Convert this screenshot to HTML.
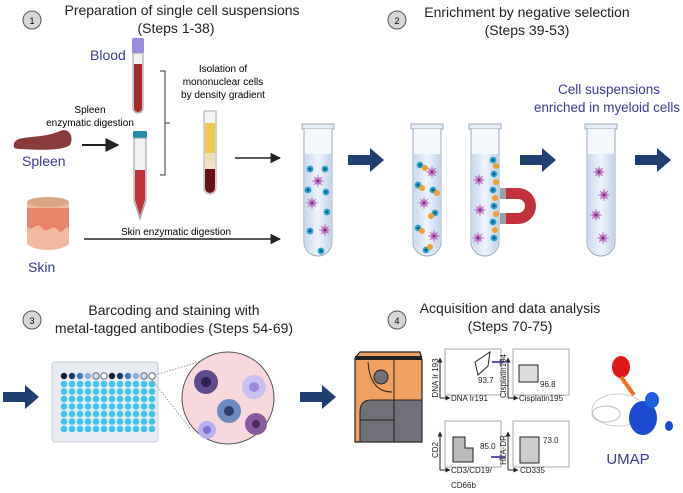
<!DOCTYPE html>
<html><head><meta charset="utf-8"><style>
html,body{margin:0;padding:0;background:#fff;}
svg{display:block;font-family:"Liberation Sans",sans-serif;}
</style></head><body>
<svg width="683" height="493" viewBox="0 0 683 493" xmlns="http://www.w3.org/2000/svg">
<defs>
<marker id="ah" viewBox="0 0 10 10" refX="9" refY="5" markerWidth="7" markerHeight="7" orient="auto"><path d="M0,0L10,5L0,10z" fill="#222"/></marker>
<marker id="ps" viewBox="0 0 10 10" refX="9" refY="5" markerWidth="6" markerHeight="6" markerUnits="userSpaceOnUse" orient="auto"><path d="M0,0L10,5L0,10z" fill="#5a5aa8"/></marker>
<marker id="ax" viewBox="0 0 10 10" refX="9" refY="5" markerWidth="5" markerHeight="5" markerUnits="userSpaceOnUse" orient="auto"><path d="M0,0L10,5L0,10z" fill="#222"/></marker>
<g id="bigArrow"><path d="M0,-5H22V-12L36,0L22,12V5H0z" fill="#1f3f72"/></g>
<linearGradient id="tg" x1="0" x2="1"><stop offset="0" stop-color="#c9d9ee"/><stop offset="0.5" stop-color="#eef4fb"/><stop offset="1" stop-color="#c3d4ea"/></linearGradient>
<g id="tube"><rect x="0" y="0" width="32" height="5" fill="#e8eef5" stroke="#9aa8b8"/><path d="M2,5V118a14,14 0 0 0 28,0V5" fill="#f4f7fb" stroke="#9aa8b8"/><path d="M3,30V118a13,13 0 0 0 26,0V30z" fill="url(#tg)"/></g>
<g id="bc"><circle r="3.4" fill="#2aa3d0"/><circle r="1.4" fill="#0b5a86"/></g>
<g id="mc"><circle r="3.8" fill="#c27cc6"/><path d="M-6,0H6M0,-6V6M-4,-4L4,4M-4,4L4,-4" stroke="#c27cc6" stroke-width="1"/><circle r="1.5" fill="#7a2d83"/></g>
<g id="oc"><circle r="3" fill="#f0a030"/></g>
</defs>

<circle cx="32" cy="20" r="9" fill="#d6d6d6" stroke="#555"/><text x="32" y="24" font-size="9" text-anchor="middle">1</text>
<text x="182" y="15" font-size="14" text-anchor="middle" fill="#222">Preparation of single cell suspensions</text>
<text x="176" y="33" font-size="14" text-anchor="middle" fill="#222">(Steps 1-38)</text>

<circle cx="397" cy="20" r="9" fill="#d6d6d6" stroke="#555"/><text x="397" y="24" font-size="9" text-anchor="middle">2</text>
<text x="527" y="17" font-size="14" text-anchor="middle" fill="#222">Enrichment by negative selection</text>
<text x="527" y="35" font-size="14" text-anchor="middle" fill="#222">(Steps 39-53)</text>

<circle cx="32" cy="320" r="9" fill="#d6d6d6" stroke="#555"/><text x="32" y="324" font-size="9" text-anchor="middle">3</text>
<text x="174" y="315" font-size="14" text-anchor="middle" fill="#222">Barcoding and staining with</text>
<text x="174" y="333" font-size="14" text-anchor="middle" fill="#222">metal-tagged antibodies (Steps 54-69)</text>

<circle cx="397" cy="320" r="9" fill="#d6d6d6" stroke="#555"/><text x="397" y="324" font-size="9" text-anchor="middle">4</text>
<text x="510" y="313" font-size="14" text-anchor="middle" fill="#222">Acquisition and data analysis</text>
<text x="510" y="331" font-size="14" text-anchor="middle" fill="#222">(Steps 70-75)</text>

<text x="90" y="60" font-size="14" fill="#3b3b98">Blood</text>
<rect x="132" y="38" width="12" height="15" rx="2" fill="#9a8ae0"/>
<path d="M133,53V108a5,5 0 0 0 10,0V53z" fill="#f3f3f3" stroke="#999"/>
<path d="M134,64V108a4,4 0 0 0 8,0V64z" fill="#a52a2a"/>
<text x="90" y="113" font-size="10" text-anchor="middle">Spleen</text>
<text x="90" y="126" font-size="10" text-anchor="middle">enzymatic digestion</text>
<path d="M14,144C16,134 40,140 60,131C70,127 74,138 70,145C62,151 40,150 20,149C14,149 13,147 14,144z" fill="#8a3a3a"/>
<text x="22" y="166" font-size="14" fill="#3b3b98">Spleen</text>
<line x1="82" y1="145" x2="118" y2="145" stroke="#222" stroke-width="2" marker-end="url(#ah)"/>
<rect x="133" y="131" width="14" height="7" rx="1" fill="#1f8fb0"/>
<path d="M134,138V200L140,219L146,200V138z" fill="#f1f1f1" stroke="#999"/>
<path d="M135,170V200L140,216L145,200V170z" fill="#c0333a"/>
<path d="M160,71H165V175H160M165,123H170" fill="none" stroke="#333"/>
<text x="223" y="72" font-size="10" text-anchor="middle">Isolation of</text>
<text x="223" y="85" font-size="10" text-anchor="middle">mononuclear cells</text>
<text x="223" y="98" font-size="10" text-anchor="middle">by density gradient</text>
<path d="M204,111V188a6,6 0 0 0 12,0V111z" fill="#f4f4f4" stroke="#aaa"/>
<rect x="205" y="123" width="10" height="30" fill="#f0c850"/>
<rect x="205" y="153" width="10" height="8" fill="#ece0b0"/>
<rect x="205" y="161" width="10" height="8" fill="#f7e0c8"/>
<path d="M205,169V188a5,5 0 0 0 10,0V169z" fill="#6a0f14"/>
<line x1="235" y1="158" x2="280" y2="158" stroke="#222" stroke-width="1.5" marker-end="url(#ah)"/>
<path d="M27,202V244C35,252 60,252 69,244V202z" fill="#f2b8a0"/>
<path d="M27,208V226C32,234 36,220 42,228C48,236 52,222 58,230C62,236 66,224 69,228V208z" fill="#e8826a"/>
<ellipse cx="48" cy="202" rx="21" ry="5" fill="#d8a882"/>
<text x="28" y="272" font-size="14" fill="#3b3b98">Skin</text>
<text x="176" y="235" font-size="10" text-anchor="middle">Skin enzymatic digestion</text>
<line x1="84" y1="239" x2="280" y2="239" stroke="#222" stroke-width="1.5" marker-end="url(#ah)"/>

<use href="#tube" x="302" y="124"/>
<use href="#bc" x="310" y="169"/><use href="#bc" x="325" y="169"/><use href="#mc" x="318" y="181"/>
<use href="#bc" x="308" y="190"/><use href="#bc" x="326" y="192"/><use href="#mc" x="312" y="203"/>
<use href="#bc" x="327" y="212"/><use href="#bc" x="310" y="231"/><use href="#mc" x="325" y="230"/><use href="#bc" x="321" y="251"/>

<use href="#bigArrow" x="348" y="160"/>
<use href="#tube" x="411" y="124"/>
<use href="#bc" x="420" y="165"/><use href="#oc" x="425" y="168"/><use href="#mc" x="432" y="172"/>
<use href="#bc" x="418" y="185"/><use href="#oc" x="422" y="188"/><use href="#bc" x="433" y="190"/><use href="#oc" x="437" y="193"/>
<use href="#mc" x="424" y="203"/><use href="#bc" x="435" y="213"/><use href="#oc" x="431" y="216"/>
<use href="#bc" x="418" y="228"/><use href="#oc" x="422" y="231"/><use href="#mc" x="434" y="236"/><use href="#bc" x="426" y="250"/><use href="#oc" x="430" y="247"/>
<use href="#tube" x="469" y="124"/>
<use href="#bc" x="493" y="160"/><use href="#oc" x="496" y="166"/><use href="#bc" x="494" y="174"/><use href="#oc" x="496" y="182"/>
<use href="#bc" x="493" y="190"/><use href="#oc" x="495" y="198"/><use href="#bc" x="494" y="206"/><use href="#oc" x="496" y="214"/>
<use href="#bc" x="493" y="222"/><use href="#oc" x="495" y="230"/><use href="#bc" x="494" y="238"/>
<use href="#mc" x="479" y="180"/><use href="#mc" x="480" y="210"/><use href="#mc" x="478" y="238"/>
<path d="M500,188H518A18,18 0 0 1 518,224H500V213H518A7,7 0 0 0 518,199H500z" fill="#c4303a"/>
<rect x="500" y="188" width="6" height="11" fill="#9aa0a8"/><rect x="500" y="213" width="6" height="11" fill="#9aa0a8"/>

<use href="#bigArrow" x="520" y="160"/>
<text x="609" y="94" font-size="13.5" text-anchor="middle" fill="#3b3b98">Cell suspensions</text>
<text x="607" y="112" font-size="13.5" text-anchor="middle" fill="#3b3b98" textLength="146" lengthAdjust="spacingAndGlyphs">enriched in myeloid cells</text>
<use href="#tube" x="585" y="124"/>
<use href="#mc" x="599" y="172"/><use href="#mc" x="604" y="195"/><use href="#mc" x="596" y="215"/><use href="#mc" x="603" y="238"/>
<use href="#bigArrow" x="635" y="160"/>

<use href="#bigArrow" x="3" y="397"/>
<rect x="52" y="362" width="106" height="80" rx="3" fill="#e6ecf2" stroke="#c8d0d8"/>
<g>
<circle cx="64" cy="376" r="3.2" fill="#0f1f3a"/><circle cx="72" cy="376" r="3.2" fill="#1f3a66"/><circle cx="80" cy="376" r="3.2" fill="#4a78c0"/><circle cx="88" cy="376" r="3.2" fill="#8fb0e0"/><circle cx="96" cy="376" r="3.2" fill="#d0e0f2" stroke="#667"/><circle cx="104" cy="376" r="3.2" fill="#fff" stroke="#667"/><circle cx="112" cy="376" r="3.2" fill="#0f1f3a"/><circle cx="120" cy="376" r="3.2" fill="#1f3a66"/><circle cx="128" cy="376" r="3.2" fill="#4a78c0"/><circle cx="136" cy="376" r="3.2" fill="#8fb0e0"/><circle cx="144" cy="376" r="3.2" fill="#d0e0f2" stroke="#667"/><circle cx="152" cy="376" r="3.2" fill="#fff" stroke="#667"/>
</g>
<g fill="#40c4ea">
<g id="row"><circle cx="64" cy="384" r="3.3"/><circle cx="72" cy="384" r="3.3"/><circle cx="80" cy="384" r="3.3"/><circle cx="88" cy="384" r="3.3"/><circle cx="96" cy="384" r="3.3"/><circle cx="104" cy="384" r="3.3"/><circle cx="112" cy="384" r="3.3"/><circle cx="120" cy="384" r="3.3"/><circle cx="128" cy="384" r="3.3"/><circle cx="136" cy="384" r="3.3"/><circle cx="144" cy="384" r="3.3"/><circle cx="152" cy="384" r="3.3"/></g>
<use href="#row" y="7.5"/><use href="#row" y="15"/><use href="#row" y="22.5"/><use href="#row" y="30"/><use href="#row" y="37.5"/><use href="#row" y="45"/>
</g>
<line x1="155" y1="375" x2="222" y2="355" stroke="#999" stroke-dasharray="1.5,1.5"/>
<line x1="152" y1="380" x2="190" y2="428" stroke="#999" stroke-dasharray="1.5,1.5"/>
<circle cx="228" cy="398" r="46" fill="#f8d8dc" stroke="#555"/>
<g><circle cx="206" cy="382" r="12" fill="#5e4a8c"/><circle cx="206" cy="382" r="5" fill="#2e2050"/>
<circle cx="254" cy="387" r="12" fill="#c8c0f0"/><circle cx="254" cy="387" r="5" fill="#9a8ae0"/>
<circle cx="229" cy="411" r="12" fill="#6a8ac0"/><circle cx="229" cy="411" r="5" fill="#2e3e6a"/>
<circle cx="256" cy="424" r="11" fill="#8a5aa0"/><circle cx="256" cy="424" r="4" fill="#4a2a60"/>
<circle cx="207" cy="430" r="9" fill="#b8b0f0"/><circle cx="207" cy="430" r="4" fill="#8070d0"/></g>
<use href="#bigArrow" x="300" y="397"/>

<path d="M355,358L360,352H420L422,360V442H355z" fill="#f0a060" stroke="#222" stroke-width="1.2"/>
<path d="M355,358H422" stroke="#222" stroke-width="4"/>
<path d="M371,400H422V442H360V412Q360,400 371,400z" fill="#707078" stroke="#222"/>
<line x1="394" y1="360" x2="394" y2="442" stroke="#222"/>
<line x1="360" y1="420" x2="394" y2="420" stroke="#222"/>
<circle cx="381" cy="377" r="7" fill="#707078" stroke="#222"/>
<path d="M368,362Q370,392 392,392" fill="none" stroke="#222"/>

<g font-size="8" fill="#222">
<rect x="445" y="349" width="56" height="46" fill="#fff" stroke="#aaa"/>
<path d="M475,362L490,352L488,366L478,375z" fill="none" stroke="#222"/>
<text x="478" y="383">93.7</text>
<path d="M440,398V358" stroke="#222" marker-end="url(#ax)"/><path d="M440,398H450" stroke="#222" marker-end="url(#ax)"/>
<text x="451" y="401">DNA Ir191</text>
<text transform="translate(438,378) rotate(-90)" text-anchor="middle">DNA Ir 193</text>
<path d="M492,362H505" stroke="#5a5aa8" stroke-width="2" marker-end="url(#ps)"/>
<rect x="513" y="349" width="56" height="46" fill="#fff" stroke="#aaa"/>
<rect x="519" y="365" width="19" height="17" fill="#ddd" stroke="#222"/>
<text x="540" y="387">96.8</text>
<path d="M508,398V358" stroke="#222" marker-end="url(#ax)"/><path d="M508,398H518" stroke="#222" marker-end="url(#ax)"/>
<text transform="translate(506,376) rotate(-90)" text-anchor="middle">Cisplatin194</text>
<text x="519" y="401">Cisplatin195</text>
<rect x="445" y="421" width="56" height="46" fill="#fff" stroke="#aaa"/>
<path d="M453,437H465V448H473V462H453z" fill="#bbb" stroke="#222"/>
<text x="480" y="449">85.0</text>
<path d="M440,470V432" stroke="#222" marker-end="url(#ax)"/><path d="M440,470H450" stroke="#222" marker-end="url(#ax)"/>
<text transform="translate(438,450) rotate(-90)" text-anchor="middle">CD2</text>
<text x="451" y="473">CD3/CD19/</text><text x="451" y="488">CD66b</text>
<path d="M491,457H505" stroke="#5a5aa8" stroke-width="2" marker-end="url(#ps)"/>
<rect x="513" y="421" width="56" height="46" fill="#fff" stroke="#aaa"/>
<path d="M520,437H539V463H520z" fill="#ccc" stroke="#222"/>
<text x="543" y="443">73.0</text>
<path d="M508,470V432" stroke="#222" marker-end="url(#ax)"/><path d="M508,470H518" stroke="#222" marker-end="url(#ax)"/>
<text transform="translate(506,450) rotate(-90)" text-anchor="middle">HLA-DR</text>
<text x="520" y="473">CD335</text>
</g>

<ellipse cx="618" cy="410" rx="26" ry="16" fill="none" stroke="#ccc"/>
<ellipse cx="606" cy="414" rx="14" ry="8" fill="none" stroke="#bbb"/>
<ellipse cx="621" cy="367" rx="9" ry="11" fill="#e01818"/>
<path d="M621,377L634,395" stroke="#f07020" stroke-width="4"/>
<ellipse cx="643" cy="418" rx="14" ry="17" fill="#1a4ad0"/>
<ellipse cx="652" cy="400" rx="7" ry="8" fill="#2060e0"/>
<ellipse cx="669" cy="426" rx="4" ry="5" fill="#1a4ad0"/>
<text x="628" y="464" font-size="15" text-anchor="middle" fill="#3b3b98">UMAP</text>
</svg>
</body></html>
